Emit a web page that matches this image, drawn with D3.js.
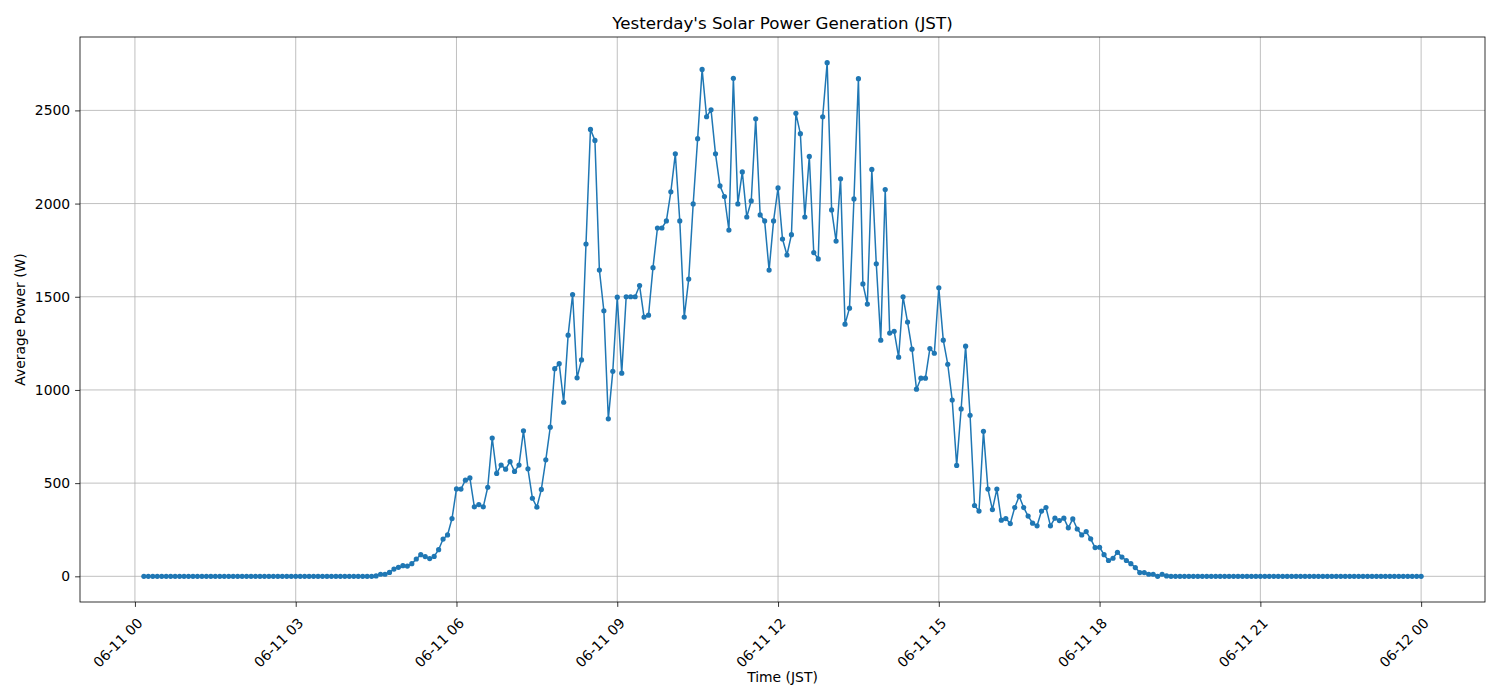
<!DOCTYPE html>
<html lang="en">
    <head>
        <meta charset="utf-8">
        <title>Yesterday's Solar Power Generation (JST)</title>
        <script type="text/javascript" src="https://d3js.org/d3.v7.min.js"></script>
        <style type="text/css">
            body { margin: 0; background: #fff; }
            text { font-family: "DejaVu Sans", sans-serif; }
        </style>
    </head>
    <body>
        <script type="text/javascript">

        //Declare consts/global variables
        const width = 1500;
        const height = 700;
        const plot = {left: 80, right: 1485, top: 37, bottom: 602};

        //Data - 5 minute averages, first reading at 00:10, one row per hour
        const startTime = Date.UTC(2024, 5, 11, 0, 10);
        const stepMinutes = 5;
        const powerByHour = [
            [0, 0, 0, 0, 0, 0, 0, 0, 0, 0],                                   // 00 (from 00:10)
            [0, 0, 0, 0, 0, 0, 0, 0, 0, 0, 0, 0],                             // 01
            [0, 0, 0, 0, 0, 0, 0, 0, 0, 0, 0, 0],                             // 02
            [0, 0, 0, 0, 0, 0, 0, 0, 0, 0, 0, 0],                             // 03
            [0, 0, 0, 0, 0, 0, 2, 11, 11, 21, 39, 48],                        // 04
            [57, 55, 68, 93, 116, 106, 95, 107, 143, 200, 222, 310],          // 05
            [469, 468, 516, 528, 373, 385, 373, 478, 742, 552, 597, 575],     // 06
            [615, 563, 597, 781, 577, 419, 371, 466, 625, 800, 1114, 1141],   // 07
            [934, 1294, 1512, 1065, 1161, 1783, 2398, 2339, 1643, 1425, 845, 1100], // 08
            [1498, 1090, 1500, 1500, 1500, 1560, 1391, 1401, 1656, 1869, 1869, 1907], // 09
            [2063, 2267, 1907, 1391, 1595, 1998, 2348, 2720, 2466, 2503, 2267, 2095], // 10
            [2038, 1858, 2672, 1998, 2170, 1928, 2014, 2455, 1939, 1907, 1643, 1907], // 11
            [2084, 1810, 1724, 1833, 2484, 2375, 1928, 2253, 1737, 1703, 2466, 2756], // 12
            [1966, 1799, 2133, 1353, 1439, 2025, 2670, 1569, 1461, 2183, 1677, 1267], // 13
            [2075, 1305, 1315, 1176, 1500, 1364, 1219, 1004, 1063, 1063, 1222, 1197], // 14
            [1548, 1267, 1138, 946, 595, 898, 1235, 864, 380, 350, 778, 468],  // 15
            [358, 468, 301, 310, 283, 369, 430, 369, 323, 285, 271, 350],     // 16
            [369, 271, 312, 299, 312, 260, 308, 254, 222, 240, 201, 154],     // 17
            [156, 116, 85, 97, 129, 103, 85, 68, 47, 20, 20, 11],             // 18
            [11, 0, 11, 2, 0, 0, 0, 0, 0, 0, 0, 0],                           // 19
            [0, 0, 0, 0, 0, 0, 0, 0, 0, 0, 0, 0],                             // 20
            [0, 0, 0, 0, 0, 0, 0, 0, 0, 0, 0, 0],                             // 21
            [0, 0, 0, 0, 0, 0, 0, 0, 0, 0, 0, 0],                             // 22
            [0, 0, 0, 0, 0, 0, 0, 0, 0, 0, 0, 0],                             // 23
            [0]                                                               // 24:00
        ];
        const yTicks = [0, 500, 1000, 1500, 2000, 2500];
        const titleText = "Yesterday's Solar Power Generation (JST)";
        const xLabelText = "Time (JST)";
        const yLabelText = "Average Power (W)";

        //format data
        const data = powerByHour.flat().map((v, i) => ({
            time: new Date(startTime + i * stepMinutes * 60000),
            power: v
        }));

        //Scales - matplotlib style 5% margins
        const tExt = d3.extent(data, d => d.time.getTime());
        const tPad = (tExt[1] - tExt[0]) * 0.05;
        const xScale = d3.scaleUtc()
                        .domain([new Date(tExt[0] - tPad), new Date(tExt[1] + tPad)])
                        .range([plot.left, plot.right]);

        const pExt = d3.extent(data, d => d.power);
        const pPad = (pExt[1] - pExt[0]) * 0.05;
        const yScale = d3.scaleLinear()
                        .domain([pExt[0] - pPad, pExt[1] + pPad])
                        .range([plot.bottom, plot.top]);

        const xTicks = d3.utcHour.every(3).range(new Date(startTime - 10 * 60000), new Date(tExt[1] + 1));

        //SVG
        const svg = d3.select("body")
                    .append("svg")
                    .attr("width", width)
                    .attr("height", height);

        svg.append("rect")
            .attr("width", width)
            .attr("height", height)
            .attr("fill", "#fff");

        //Grid
        svg.append("g")
            .selectAll("line")
            .data(xTicks)
            .enter()
            .append("line")
            .attr("x1", d => xScale(d))
            .attr("x2", d => xScale(d))
            .attr("y1", plot.top)
            .attr("y2", plot.bottom)
            .attr("stroke", "#b0b0b0")
            .attr("stroke-width", 0.8);

        svg.append("g")
            .selectAll("line")
            .data(yTicks)
            .enter()
            .append("line")
            .attr("x1", plot.left)
            .attr("x2", plot.right)
            .attr("y1", d => yScale(d))
            .attr("y2", d => yScale(d))
            .attr("stroke", "#b0b0b0")
            .attr("stroke-width", 0.8);

        //Line + markers
        const line = d3.line()
                       .x(d => xScale(d.time))
                       .y(d => yScale(d.power));

        svg.append("path")
            .datum(data)
            .attr("d", line)
            .attr("fill", "none")
            .attr("stroke", "#1f77b4")
            .attr("stroke-width", 1.5)
            .attr("stroke-linejoin", "round");

        svg.append("g")
            .selectAll("circle")
            .data(data)
            .enter()
            .append("circle")
            .attr("cx", d => xScale(d.time))
            .attr("cy", d => yScale(d.power))
            .attr("r", 2.6)
            .attr("fill", "#1f77b4");

        //Axes - create and implement x/y axes
        const bottomAxis = d3.axisBottom(xScale)
                             .tickValues(xTicks)
                             .tickSize(4.9)
                             .tickPadding(4.9)
                             .tickFormat(d3.utcFormat("%m-%d %H"));

        const gx = svg.append("g")
            .attr("transform", "translate(0," + plot.bottom + ")")
            .call(bottomAxis);
        gx.select(".domain").remove();
        gx.selectAll("line").attr("stroke", "#000").attr("stroke-width", 0.8);
        gx.selectAll("text")
            .attr("font-size", "13.9px")
            .attr("fill", "#000")
            .attr("text-anchor", "end")
            .attr("dy", null)
            .attr("y", null)
            .attr("transform", "translate(8,22) rotate(-45)");

        const leftAxis = d3.axisLeft(yScale)
                           .tickValues(yTicks)
                           .tickFormat(d3.format("d"))
                           .tickSize(4.9)
                           .tickPadding(4.9);

        const gy = svg.append("g")
            .attr("transform", "translate(" + plot.left + ",0)")
            .call(leftAxis);
        gy.select(".domain").remove();
        gy.selectAll("line").attr("stroke", "#000").attr("stroke-width", 0.8);
        gy.selectAll("text").attr("font-size", "13.9px").attr("fill", "#000");

        //Frame
        svg.append("rect")
            .attr("x", plot.left)
            .attr("y", plot.top)
            .attr("width", plot.right - plot.left)
            .attr("height", plot.bottom - plot.top)
            .attr("fill", "none")
            .attr("stroke", "#000")
            .attr("stroke-width", 0.8);

        //Titles
        svg.append("text")
            .attr("x", (plot.left + plot.right) / 2)
            .attr("y", 29)
            .attr("text-anchor", "middle")
            .attr("font-size", "16.7px")
            .text(titleText);

        svg.append("text")
            .attr("x", (plot.left + plot.right) / 2)
            .attr("y", 682)
            .attr("text-anchor", "middle")
            .attr("font-size", "13.9px")
            .text(xLabelText);

        svg.append("text")
            .attr("transform", "translate(25," + ((plot.top + plot.bottom) / 2) + ") rotate(-90)")
            .attr("text-anchor", "middle")
            .attr("font-size", "13.9px")
            .text(yLabelText);

        </script>
    </body>
</html>
